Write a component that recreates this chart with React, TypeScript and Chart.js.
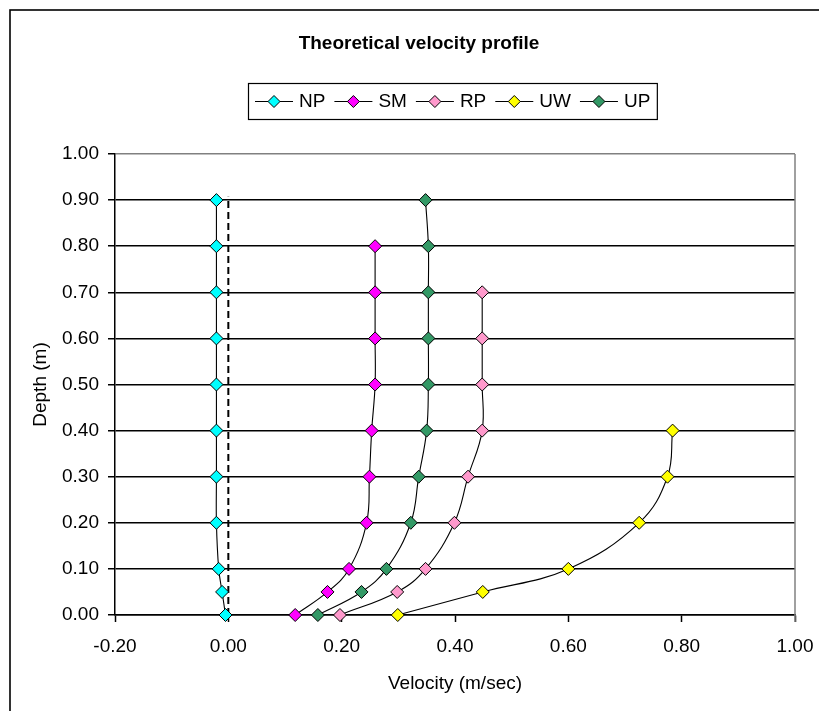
import React, { useEffect, useRef } from 'react';
import { Chart, registerables } from 'chart.js';

Chart.register(...registerables);

// ---- data ----
const depths = [0, 0.05, 0.1, 0.2, 0.3, 0.4, 0.5, 0.6, 0.7, 0.8, 0.9];
const npVelocity = [-0.005, -0.011, -0.017, -0.021, -0.021, -0.021, -0.021, -0.021, -0.021, -0.021, -0.021];
const smVelocity = [0.118, 0.175, 0.213, 0.244, 0.249, 0.253, 0.259, 0.259, 0.259, 0.259];
const rpVelocity = [0.197, 0.298, 0.348, 0.399, 0.423, 0.448, 0.448, 0.448, 0.448];
const uwVelocity = [0.299, 0.449, 0.6, 0.725, 0.775, 0.784];
const upVelocity = [0.158, 0.235, 0.279, 0.322, 0.336, 0.35, 0.353, 0.353, 0.353, 0.353, 0.348];
const zeroLineVelocity = [0, 0];
const zeroLineDepth = [0, 0.907];

const seriesNames = ['NP', 'SM', 'RP', 'UW', 'UP'];
const seriesValues = [npVelocity, smVelocity, rpVelocity, uwVelocity, upVelocity];
const seriesColors = ['#00FFFF', '#FF00FF', '#FF99CC', '#FFFF00', '#339966'];

const chartTitle = 'Theoretical velocity profile';
const xAxisTitle = 'Velocity (m/sec)';
const yAxisTitle = 'Depth (m)';

const FONT = '"Liberation Sans", Arial, Helvetica, sans-serif';

const fmt = (v: number) => (Math.abs(v) < 1e-9 ? 0 : v).toFixed(2);

const decorPlugin = {
  id: 'decor',
  beforeDraw(chart: any) {
    const { ctx, width, height } = chart;
    ctx.save();
    ctx.fillStyle = '#ffffff';
    ctx.fillRect(0, 0, width, height);
    ctx.strokeStyle = '#000000';
    ctx.lineWidth = 1.6;
    ctx.strokeRect(10, 10, width + 40, height + 40);
    ctx.restore();
  },
  afterDraw(chart: any) {
    const { ctx, chartArea } = chart;
    ctx.save();
    // plot-area right border
    ctx.strokeStyle = '#808080';
    ctx.lineWidth = 1.5;
    ctx.beginPath();
    ctx.moveTo(chartArea.right, chartArea.top);
    ctx.lineTo(chartArea.right, chartArea.bottom + 7);
    ctx.stroke();

    // title
    ctx.fillStyle = '#000000';
    ctx.font = `bold 19px ${FONT}`;
    ctx.textAlign = 'center';
    ctx.textBaseline = 'middle';
    ctx.fillText(chartTitle, 419, 44);

    // legend
    ctx.font = `19px ${FONT}`;
    ctx.textAlign = 'left';
    const cy = 101.5;
    let x = 255;
    const sets = chart.data.datasets.slice(0, seriesNames.length);
    sets.forEach((ds: any) => {
      ctx.strokeStyle = '#000000';
      ctx.lineWidth = 1;
      ctx.beginPath();
      ctx.moveTo(x, cy);
      ctx.lineTo(x + 38, cy);
      ctx.stroke();
      const dx = x + 19;
      const r = 6;
      ctx.beginPath();
      ctx.moveTo(dx - r, cy);
      ctx.lineTo(dx, cy - r);
      ctx.lineTo(dx + r, cy);
      ctx.lineTo(dx, cy + r);
      ctx.closePath();
      ctx.fillStyle = ds.pointBackgroundColor;
      ctx.fill();
      ctx.stroke();
      ctx.fillStyle = '#000000';
      ctx.fillText(ds.label, x + 44, cy);
      x = x + 44 + ctx.measureText(ds.label).width + 9;
    });
    ctx.strokeStyle = '#000000';
    ctx.lineWidth = 1.2;
    ctx.strokeRect(248.5, 83.5, x - 9 + 7 - 248.5, 36);
    ctx.restore();
  },
};

export default function App() {
  const canvasRef = useRef<HTMLCanvasElement | null>(null);

  useEffect(() => {
    if (!canvasRef.current) return;
    const datasets: any[] = seriesNames.map((name, i) => ({
      label: name,
      data: seriesValues[i].map((v, j) => ({ x: v, y: depths[j] })),
      showLine: true,
      borderColor: '#000000',
      borderWidth: 1.1,
      tension: 0.4,
      pointStyle: 'rectRot',
      pointRadius: 6.5,
      pointBorderWidth: 1,
      pointBorderColor: '#000000',
      pointBackgroundColor: seriesColors[i],
      backgroundColor: seriesColors[i],
      clip: false,
    }));
    datasets.push({
      label: 'zero',
      data: zeroLineVelocity.map((v, j) => ({ x: v, y: zeroLineDepth[j] })),
      showLine: true,
      borderColor: '#000000',
      borderWidth: 2,
      borderDash: [7, 4],
      pointRadius: 0,
      clip: false,
      order: 10,
    });

    const chart = new Chart(canvasRef.current, {
      type: 'scatter',
      data: { datasets },
      plugins: [decorPlugin],
      options: {
        animation: false,
        responsive: false,
        devicePixelRatio: 1,
        layout: { padding: { left: 0, right: 24, top: 154, bottom: 0 } },
        plugins: {
          legend: { display: false },
          title: { display: false },
          tooltip: { enabled: false },
        },
        scales: {
          x: {
            type: 'linear',
            min: -0.2,
            max: 1,
            ticks: {
              stepSize: 0.2,
              padding: 13,
              color: '#000000',
              font: { family: FONT, size: 19 },
              callback: (v: any) => fmt(Number(v)),
            },
            grid: {
              drawOnChartArea: false,
              drawTicks: true,
              tickLength: 7,
              tickColor: '#000000',
              tickWidth: 1.5,
            },
            border: { color: '#000000', width: 1.5 },
            title: {
              display: true,
              text: xAxisTitle,
              color: '#000000',
              font: { family: FONT, size: 19 },
              padding: { top: 0, bottom: 16 },
            },
            afterFit: (axis: any) => {
              axis.height = 96;
              axis.paddingLeft = 0;
              axis.paddingRight = 0;
            },
          },
          y: {
            type: 'linear',
            min: 0,
            max: 1,
            ticks: {
              stepSize: 0.1,
              padding: 9,
              color: '#000000',
              font: { family: FONT, size: 19 },
              callback: (v: any) => fmt(Number(v)),
            },
            grid: {
              drawOnChartArea: true,
              drawTicks: true,
              tickLength: 7,
              tickColor: '#000000',
              lineWidth: 1.5,
              color: (c: any) => (c.tick && Math.abs(c.tick.value - 1) < 1e-9 ? '#808080' : '#000000'),
            },
            border: { color: '#000000', width: 1.5 },
            title: {
              display: true,
              text: yAxisTitle,
              color: '#000000',
              font: { family: FONT, size: 19 },
              padding: { top: 29, bottom: 0 },
            },
            afterFit: (axis: any) => {
              axis.width = 115;
              axis.paddingTop = 0;
              axis.paddingBottom = 0;
            },
          },
        },
      } as any,
    });
    return () => chart.destroy();
  }, []);

  return (
    <div style={{ position: 'fixed', left: 0, top: 0, width: 819, height: 711, overflow: 'hidden' }}>
      <canvas ref={canvasRef} width={819} height={711} style={{ display: 'block' }} />
    </div>
  );
}
